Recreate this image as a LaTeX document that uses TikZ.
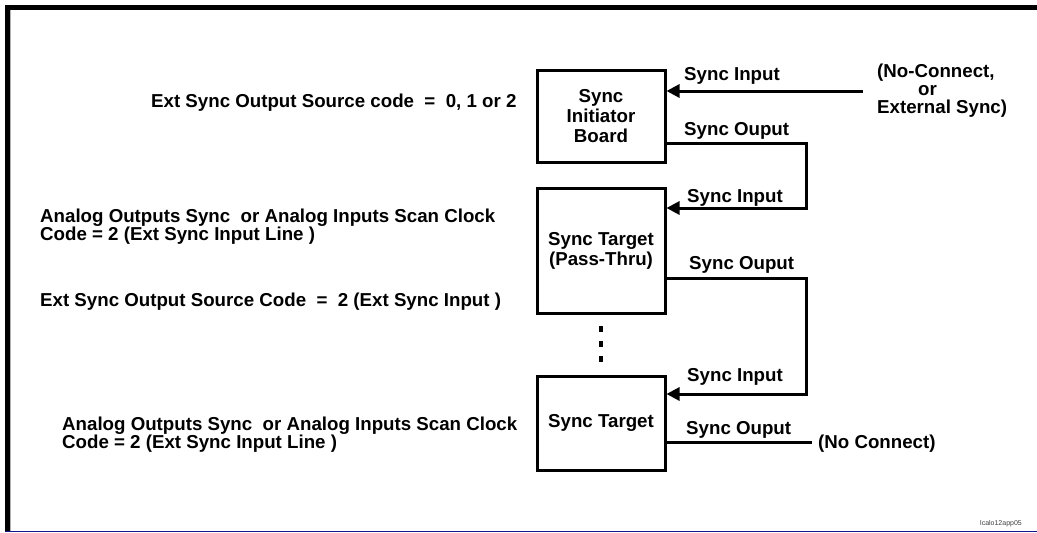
\documentclass[tikz,border=0pt]{standalone}
\usepackage{fontspec}
\setmainfont{Liberation Sans}
\usetikzlibrary{arrows.meta}
\definecolor{navyline}{RGB}{20,20,140}
\tikzset{
 txt/.style={font=\bfseries\fontsize{18.7}{18}\selectfont, inner sep=0pt, text=black},
 box/.style={draw, line width=3pt, minimum width=128pt, txt, align=center, font=\bfseries\fontsize{18.7}{20}\selectfont},
 conn/.style={line width=3pt},
 arr/.style={conn, -{Triangle[length=13pt,width=13pt]}},
}
\begin{document}
\begin{tikzpicture}[x=1pt,y=-1pt]
\useasboundingbox (0,0) rectangle (1037,533);
% frame
\fill[black] (5,5) rectangle (1037,10);
\fill[black] (5,5) rectangle (10,531);
\draw[gray!60, line width=1pt] (10.5,10) -- (10.5,531);
\draw[navyline, line width=1.5pt] (5,531.5) -- (1037,531.5);
% boxes
\node[box, minimum height=92pt] (init) at (601,116) {Sync\\Initiator\\Board};
\node[box, minimum height=125pt] (pass) at (601,250.5) {Sync Target\\(Pass-Thru)};
\node[box, minimum height=94pt] (tgt) at (601,423) {Sync Target};
% dots
\coordinate (d1) at (601,326);
\coordinate (d2) at (601,363);
\draw[line width=4pt, dash pattern=on 6pt off 9pt] (d1) -- (d2);
% connectors
\coordinate (ext) at (863,91);
\draw[arr] (ext) -- (ext -| init.east);
\coordinate (r1) at (806,143);
\coordinate (r2) at (806,208);
\draw[arr] (init.east |- r1) -- (r1) -- (r2) -- (r2 -| pass.east);
\coordinate (r3) at (806,278);
\coordinate (r4) at (806,394);
\draw[arr] (pass.east |- r3) -- (r3) -- (r4) -- (r4 -| tgt.east);
\coordinate (nc) at (812,442);
\draw[conn] (tgt.east |- nc) -- (nc);
% connector labels
\node[txt, anchor=base west] (si1) at (684,80) {Sync Input};
\node[txt, anchor=base west] (so1) at (684,135) {Sync Ouput};
\node[txt, anchor=base west] (si2) at (687,202) {Sync Input};
\node[txt, anchor=base west] (so2) at (689,269) {Sync Ouput};
\node[txt, anchor=base west] (si3) at (687,381) {Sync Input};
\node[txt, anchor=base west] (so3) at (686,434) {Sync Ouput};
\node[txt, anchor=base west] (ncl) at (818,448) {(No Connect)};
\node[txt, anchor=base west, align=left] (extl) at (877,113) {(No-Connect,\\\hspace*{41pt}or\\External Sync)};
% left texts
\node[txt, anchor=base west] (t1) at (151,107) {Ext Sync Output Source code\ \ =\ \ 0, 1 or 2};
\node[txt, anchor=base west, align=left] (t2) at (40,240) {Analog Outputs Sync\ \ or Analog Inputs Scan Clock\\Code = 2 (Ext Sync Input Line )};
\node[txt, anchor=base west] (t3) at (40,306) {Ext Sync Output Source Code\ \ =\ \ 2 (Ext Sync Input )};
\node[txt, anchor=base west, align=left] (t4) at (62,448) {Analog Outputs Sync\ \ or Analog Inputs Scan Clock\\Code = 2 (Ext Sync Input Line )};
\node[font=\fontsize{7}{8}\selectfont, text=black!75, anchor=base west, inner sep=0pt] (id) at (980,525) {lcalo12app05};
\end{tikzpicture}
\end{document}
